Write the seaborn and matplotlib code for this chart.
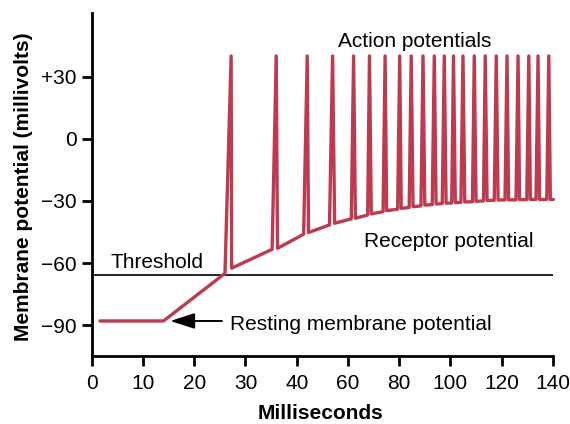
#!/usr/bin/env python3
"""
Receptor potential -> action potential train
Membrane potential (mV) vs. time (ms), x axis stretched below 40 ms
"""

import numpy as np
import pandas as pd
import matplotlib
matplotlib.use('Agg')
import matplotlib.pyplot as plt
import seaborn as sns

# ─── 1. data ─────────────────────────────────────────────────────────────────
rest_ms = [1.6, 14.0]
rest_mv = [-88.0, -88.0]

# each action potential: onset on the receptor curve -> peak -> trough after
onset_ms = [26.0, 35.2, 42.7, 52.8, 61.3, 67.7, 73.7, 79.4, 83.9, 88.5, 92.9,
            96.8, 100.5, 104.1, 108.6, 112.9, 117.1, 121.3, 125.6, 129.8, 133.4, 137.6]
onset_mv = [-65.0, -53.4, -46.1, -41.6, -38.7, -36.8, -35.2, -34.0, -33.2, -32.4, -31.8,
            -31.3, -31.0, -30.7, -30.4, -30.0, -29.7, -29.5, -29.5, -29.4, -29.3, -29.3]
peak_ms = [27.2, 36.0, 44.1, 54.0, 62.2, 68.4, 74.5, 80.2, 84.7, 89.3, 93.7,
           97.6, 101.2, 104.9, 109.3, 113.6, 117.9, 122.1, 126.4, 130.6, 134.2, 138.4]
peak_mv = [40.0] * len(peak_ms)
trough_ms = [27.3, 36.25, 44.6, 54.8, 62.9, 69.1, 75.1, 80.8, 85.4, 90.0, 94.4,
             98.3, 101.9, 105.6, 110.0, 114.3, 118.6, 122.7, 127.0, 131.2, 134.8, 139.0]
trough_mv = [-62.5, -52.9, -45.3, -40.8, -38.4, -36.3, -34.7, -33.6, -32.8, -32.0, -31.5,
             -31.1, -30.8, -30.5, -30.2, -29.8, -29.6, -29.5, -29.4, -29.3, -29.3, -29.3]
end_ms, end_mv = 140.2, -29.3

threshold_mv = -66.0

x_ticks = [0, 10, 20, 30, 40, 60, 80, 100, 120, 140]
y_ticks = [30, 0, -30, -60, -90]
y_labels = ['+30', '0', '\u221230', '\u221260', '\u221290']

# ─── 2. polyline ─────────────────────────────────────────────────────────────
rows = list(zip(rest_ms, rest_mv))
for a in zip(onset_ms, onset_mv, peak_ms, peak_mv, trough_ms, trough_mv):
    rows += [(a[0], a[1]), (a[2], a[3]), (a[4], a[5])]
rows.append((end_ms, end_mv))
trace = pd.DataFrame(rows, columns=['ms', 'mv'])


# x axis: 10 ms per tick up to 40, 20 ms per tick after
def fwd(x):
    x = np.asarray(x, dtype=float)
    return np.where(x <= 40, x / 10.0, 4 + (x - 40) / 20.0)


def inv(p):
    p = np.asarray(p, dtype=float)
    return np.where(p <= 4, p * 10.0, 40 + (p - 4) * 20.0)


# ─── 3. plot ─────────────────────────────────────────────────────────────────
sns.set_style('ticks', {'axes.edgecolor': 'black', 'text.color': 'black',
                        'axes.labelcolor': 'black', 'xtick.color': 'black',
                        'ytick.color': 'black'})
plt.rcParams['font.family'] = ['Liberation Sans', 'DejaVu Sans']

RED = '#BE3A4E'

fig = plt.figure(figsize=(5.7, 4.24), dpi=100)
ax = fig.add_axes([0.161, 0.160, 0.809, 0.809])

ax.axhline(threshold_mv, color='black', lw=1.2, zorder=1)
sns.lineplot(data=trace, x='ms', y='mv', sort=False, estimator=None,
             color=RED, lw=2.4, ax=ax, zorder=2, clip_on=False)
ax.lines[-1].set_solid_joinstyle('round')

ax.set_xscale('function', functions=(fwd, inv))
ax.set_xlim(0, 140)
ax.set_ylim(-105, 60.7)
ax.set_xticks(x_ticks)
ax.set_xticklabels([str(t) for t in x_ticks])
ax.set_yticks(y_ticks)
ax.set_yticklabels(y_labels)
ax.minorticks_off()

sns.despine(ax=ax)
for s in ['left', 'bottom']:
    ax.spines[s].set_linewidth(2.0)
ax.tick_params(axis='both', width=2.0, length=7, labelsize=15)
ax.tick_params(axis='x', pad=6)
ax.tick_params(axis='y', pad=4)

ax.set_xlabel('Milliseconds', fontsize=15, fontweight='bold', va='baseline')
ax.set_ylabel('Membrane potential (millivolts)', fontsize=15, fontweight='bold')
ax.xaxis.set_label_coords(0.496, -0.182)
ax.yaxis.set_label_coords(-0.127, 0.493)

# labels
ax.text(56.3, 44.5, 'Action potentials', fontsize=15, va='baseline')
ax.text(66.1, -52.1, 'Receptor potential', fontsize=15, va='baseline')
ax.text(3.7, -62.2, 'Threshold', fontsize=15, va='baseline')
ax.text(27.0, -92.3, 'Resting membrane potential', fontsize=15, va='baseline')
ax.annotate('', xy=(15.3, -88), xytext=(25.4, -88),
            arrowprops=dict(arrowstyle='-|>,head_length=0.75,head_width=0.24',
                            color='black', lw=1.4, shrinkA=0, shrinkB=0,
                            mutation_scale=20))

fig.savefig('out.png', dpi=100)
plt.close()
